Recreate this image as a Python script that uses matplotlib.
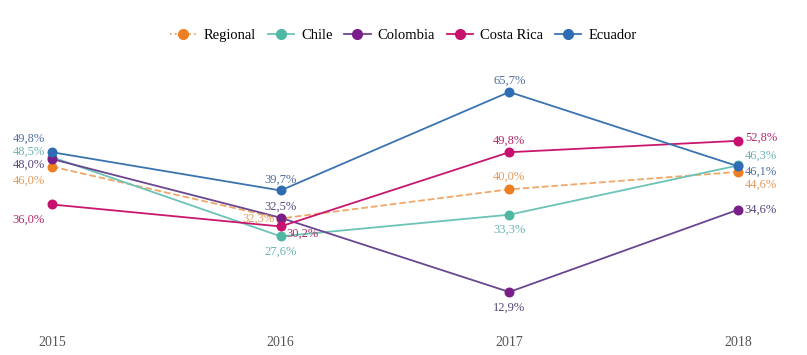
import matplotlib.pyplot as plt
from matplotlib.lines import Line2D

years = [2015, 2016, 2017, 2018]

regional = [46.0, 32.3, 40.0, 44.6]
chile = [48.5, 27.6, 33.3, 46.3]
colombia = [48.0, 32.5, 12.9, 34.6]
costa_rica = [36.0, 30.2, 49.8, 52.8]
ecuador = [49.8, 39.7, 65.7, 46.1]

names = ["Regional", "Chile", "Colombia", "Costa Rica", "Ecuador"]

plt.rcParams['font.family'] = ['Liberation Serif', 'DejaVu Serif']

# line colour, marker colour, label colour
styles = {
    "Regional": ("#F0A868", "#EE7E22", "#E49A5E"),
    "Chile": ("#6CC3B8", "#4DB8A4", "#6AB3B0"),
    "Colombia": ("#6A4690", "#7A1F8A", "#57457A"),
    "Costa Rica": ("#C8176E", "#C8106E", "#B02A6A"),
    "Ecuador": ("#3A74B0", "#2E6DB4", "#4F6E9E"),
}

series = {"Regional": regional, "Chile": chile, "Colombia": colombia,
          "Costa Rica": costa_rica, "Ecuador": ecuador}

# label offsets in points (dx, dy, ha) for each point
offsets = {
    "Regional": [(-5, -10, "right"), (-4, 0, "right"), (0, 9, "center"), (5, -9, "left")],
    "Chile": [(-5, 4, "right"), (0, -11, "center"), (0, -11, "center"), (5, 7, "left")],
    "Colombia": [(-5, -4, "right"), (0, 8, "center"), (0, -11, "center"), (5, 0, "left")],
    "Costa Rica": [(-5, -11, "right"), (4, -5, "left"), (0, 8, "center"), (5, 2, "left")],
    "Ecuador": [(-5, 10, "right"), (0, 8, "center"), (0, 8, "center"), (5, -4, "left")],
}

fig = plt.figure(figsize=(8.07, 3.55), dpi=100)
ax = fig.add_axes([0.0644, 0.1775, 0.850, 0.5634])

for name in names:
    vals = series[name]
    lc, mc, tc = styles[name]
    ls = "--" if name == "Regional" else "-"
    ax.plot(years, vals, color=lc, linestyle=ls, linewidth=1.3, zorder=2, clip_on=False)
    ax.scatter(years, vals, color=mc, s=38, zorder=3, clip_on=False)
    for x, v, (dx, dy, ha) in zip(years, vals, offsets[name]):
        ax.annotate(f"{v:.1f}%".replace(".", ","), (x, v), xytext=(dx, dy),
                    textcoords="offset points", ha=ha, va="center",
                    fontsize=9, color=tc, zorder=4)

ax.set_xlim(2015, 2018)
ax.set_ylim(12.9, 65.7)
ax.set_xticks(years)
ax.set_xticklabels([str(y) for y in years], fontsize=10, color="#555555")
ax.tick_params(axis="x", length=0, pad=32)
ax.set_yticks([])
for s in ax.spines.values():
    s.set_visible(False)

handles = []
for name in names:
    lc, mc, tc = styles[name]
    ls = ":" if name == "Regional" else "-"
    handles.append(Line2D([0], [0], color=lc, linestyle=ls, linewidth=1.3,
                          marker="o", markersize=7, markerfacecolor=mc, markeredgecolor=mc))
fig.legend(handles, names, loc="center", bbox_to_anchor=(0.5, 0.9), ncol=5,
           frameon=False, fontsize=10.5, handlelength=1.8, handletextpad=0.5,
           columnspacing=0.8)

fig.savefig("out.png", dpi=100)
